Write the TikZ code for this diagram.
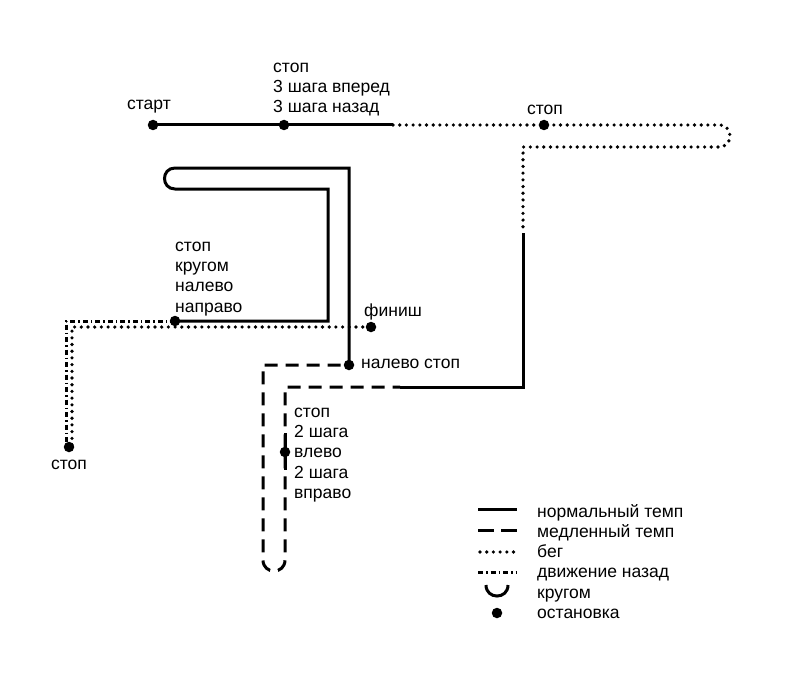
\documentclass[tikz,border=0pt]{standalone}
\usepackage{fontspec}
\setmainfont{Liberation Sans}
\begin{document}
\begin{tikzpicture}[x=1pt,y=-1pt,
  dot/.style={circle,fill=black,inner sep=0pt,minimum size=10.5pt},
  lbl/.style={font=\fontsize{17.5}{20.4}\selectfont,inner sep=0pt,align=left},
  trk/.style={line width=3pt,line join=miter},
  norm/.style={trk},
  slow/.style={trk,dash pattern=on 13pt off 8pt,dash phase=5.7pt},
  slowleg/.style={trk,dash pattern=on 16pt off 7pt},
  run/.style={trk,line cap=round,line width=3.6pt,dash pattern=on 0pt off 6.7pt},
  back/.style={trk,dash pattern=on 5pt off 3pt on 1.5pt off 3pt},
]
\fill[white] (0,0) rectangle (800,690);
\useasboundingbox (0,0) rectangle (800,690);

% stop points
\node[dot] (start) at (153,125) {};
\node[dot] (s1) at (284,125) {};
\node[dot] (s2) at (544,125) {};
\node[dot] (s3) at (175,321) {};
\node[dot] (fin) at (371,327) {};
\node[dot] (s4) at (349,365) {};
\node[dot] (s5) at (285,452) {};
\node[dot] (s6) at (69,447) {};

% corner / change points
\coordinate (a1) at (393,125);
\coordinate (a2) at (719,125);
\coordinate (a3) at (719,147);
\coordinate (a4) at (523,147);
\coordinate (a5) at (523,233);
\coordinate (a6) at (523,387);
\coordinate (a7) at (400,387);
\coordinate (a8) at (285,387);
\coordinate (a9) at (285,560);
\coordinate (a10) at (263,560);
\coordinate (a11) at (263,365);
\coordinate (e1) at (285,433);
\coordinate (e2) at (285,470);
\coordinate (b1) at (349,168);
\coordinate (b2) at (175,168);
\coordinate (b3) at (175,189);
\coordinate (b4) at (328,189);
\coordinate (b5) at (328,321);
\coordinate (c1) at (66,321);
\coordinate (c2) at (66,445);
\coordinate (d1) at (72,445);
\coordinate (d2) at (72,327);

% route
\draw[norm] (start.center) -- (s1.center) -- (a1);
\draw[run] (a1) -- (s2.center) -- (a2) .. controls +(14.7,0) and +(14.7,0) .. (a3) -- (a4) -- (a5);
\draw[norm] (a5) -- (a6) -- (a7);
\draw[slow] (a7) -- (a8) -- (a9) .. controls +(0,14.7) and +(0,14.7) .. (a10) -- (a11) -- (s4.center);
\draw[norm] (e1) -- (e2);
\draw[norm] (s4.center) -- (b1) -- (b2) .. controls +(-14,0) and +(-14,0) .. (b3) -- (b4) -- (b5) -- (s3.center);
\draw[back] (s3.center) -- (c1) -- (c2);
\draw[run] (d1) -- (d2) -- (fin.center);

% labels
\node[lbl,anchor=base] (Lstart) at (149,110) {старт};
\node[lbl,anchor=north west] (L1) at (273,57.7) {\strut стоп\\3 шага вперед\\3 шага назад};
\node[lbl,anchor=base] (L2) at (545,114) {стоп};
\node[lbl,anchor=north west] (L3) at (175,236.7) {\strut стоп\\кругом\\налево\\направо};
\node[lbl,anchor=base west] (L4) at (364,316) {финиш};
\node[lbl,anchor=base west] (L5) at (361,368) {налево стоп};
\node[lbl,anchor=north west] (L6) at (294,402.7) {\strut стоп\\2 шага\\влево\\2 шага\\вправо};
\node[lbl,anchor=base] (L7) at (69,469) {стоп};

% legend
\draw[norm] (478,509) -- (517,509);
\draw[slowleg] (478,530) -- (517,530);
\draw[run] (480,552) -- (517,552);
\draw[back] (478,572) -- (517,572);
\draw[trk] (486,585) .. controls +(0,14.7) and +(0,14.7) .. (508,585);
\node[dot] (ldot) at (497,613) {};
\node[lbl,anchor=base west] (G1) at (537,517) {нормальный темп};
\node[lbl,anchor=base west] (G2) at (537,537.3) {медленный темп};
\node[lbl,anchor=base west] (G3) at (537,557.6) {бег};
\node[lbl,anchor=base west] (G4) at (537,577.9) {движение назад};
\node[lbl,anchor=base west] (G5) at (537,598.2) {кругом};
\node[lbl,anchor=base west] (G6) at (537,618.5) {остановка};
\end{tikzpicture}
\end{document}
